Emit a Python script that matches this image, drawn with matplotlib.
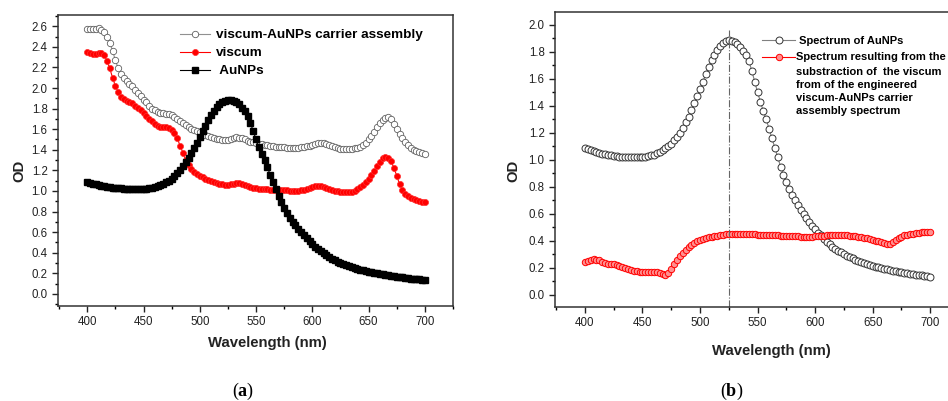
import numpy as np
import matplotlib
matplotlib.use('Agg')
import matplotlib.pyplot as plt
from matplotlib.ticker import MultipleLocator

plt.rcParams['font.family'] = ['Liberation Sans', 'DejaVu Sans']
plt.rcParams['mathtext.fontset'] = 'custom'
plt.rcParams['mathtext.bf'] = 'Liberation Serif:bold'
plt.rcParams['mathtext.rm'] = 'Liberation Serif'

# Wavelength grid (nm), one reading every 2.5 nm
wavelength = np.linspace(400, 700, 121)

# Panel (a) - viscum-AuNPs carrier assembly
carrier = [2.57, 2.57, 2.57, 2.575, 2.58, 2.565, 2.545, 2.50, 2.44, 2.36,
           2.27, 2.19, 2.14, 2.095, 2.065, 2.04, 2.015, 1.985, 1.955, 1.92,
           1.885, 1.86, 1.83, 1.80, 1.785, 1.77, 1.76, 1.755, 1.752, 1.748,
           1.74, 1.72, 1.70, 1.68, 1.66, 1.64, 1.62, 1.605, 1.595, 1.58,
           1.57, 1.555, 1.545, 1.535, 1.525, 1.515, 1.505, 1.50, 1.497, 1.495,
           1.497, 1.505, 1.515, 1.52, 1.515, 1.51, 1.50, 1.49, 1.48, 1.475,
           1.465, 1.46, 1.455, 1.45, 1.445, 1.44, 1.435, 1.43, 1.427, 1.425,
           1.424, 1.422, 1.42, 1.42, 1.42, 1.422, 1.424, 1.428, 1.435, 1.44,
           1.45, 1.46, 1.467, 1.47, 1.465, 1.455, 1.445, 1.435, 1.425, 1.418,
           1.412, 1.408, 1.405, 1.405, 1.407, 1.413, 1.42, 1.43, 1.45, 1.47,
           1.50, 1.535, 1.575, 1.62, 1.657, 1.69, 1.71, 1.715, 1.695, 1.655,
           1.605, 1.555, 1.515, 1.475, 1.445, 1.42, 1.40, 1.385, 1.375, 1.368,
           1.36]

# Panel (a) - viscum
viscum = [2.35, 2.34, 2.335, 2.335, 2.34, 2.34, 2.32, 2.26, 2.19, 2.10,
          2.02, 1.96, 1.91, 1.89, 1.878, 1.865, 1.85, 1.83, 1.808, 1.785,
          1.755, 1.73, 1.70, 1.675, 1.655, 1.635, 1.625, 1.62, 1.618, 1.61,
          1.595, 1.56, 1.51, 1.44, 1.37, 1.30, 1.25, 1.21, 1.185, 1.165,
          1.15, 1.135, 1.12, 1.108, 1.10, 1.09, 1.08, 1.072, 1.065, 1.058,
          1.06, 1.066, 1.07, 1.074, 1.073, 1.065, 1.055, 1.045, 1.038, 1.03,
          1.026, 1.022, 1.02, 1.018, 1.016, 1.014, 1.012, 1.01, 1.01, 1.01,
          1.008, 1.006, 1.004, 1.003, 1.002, 1.003, 1.005, 1.01, 1.018, 1.028,
          1.037, 1.044, 1.048, 1.048, 1.042, 1.032, 1.02, 1.008, 1.0, 0.995,
          0.99, 0.988, 0.987, 0.988, 0.992, 1.0, 1.015, 1.035, 1.06, 1.09,
          1.12, 1.155, 1.19, 1.24, 1.285, 1.32, 1.333, 1.325, 1.29, 1.22,
          1.15, 1.065, 1.01, 0.975, 0.95, 0.932, 0.92, 0.91, 0.903, 0.895,
          0.89]

# AuNPs spectrum (same in (a) and (b))
aunps = [1.085, 1.078, 1.07, 1.063, 1.057, 1.051, 1.046, 1.041, 1.037, 1.033,
         1.03, 1.027, 1.025, 1.023, 1.021, 1.02, 1.019, 1.018, 1.018, 1.019,
         1.021, 1.024, 1.028, 1.033, 1.04, 1.048, 1.058, 1.07, 1.085, 1.10,
         1.12, 1.145, 1.17, 1.20, 1.24, 1.28, 1.32, 1.37, 1.42, 1.47,
         1.525, 1.58, 1.635, 1.69, 1.74, 1.78, 1.815, 1.845, 1.865, 1.878,
         1.885, 1.883, 1.875, 1.86, 1.84, 1.81, 1.775, 1.73, 1.66, 1.58,
         1.50, 1.43, 1.36, 1.30, 1.23, 1.16, 1.09, 1.02, 0.95, 0.89,
         0.835, 0.785, 0.74, 0.70, 0.665, 0.63, 0.60, 0.57, 0.54, 0.51,
         0.485, 0.46, 0.44, 0.415, 0.395, 0.375, 0.358, 0.342, 0.328, 0.315,
         0.302, 0.29, 0.28, 0.27, 0.261, 0.252, 0.244, 0.236, 0.229, 0.222,
         0.216, 0.21, 0.204, 0.199, 0.194, 0.189, 0.184, 0.18, 0.176, 0.172,
         0.168, 0.164, 0.16, 0.157, 0.153, 0.15, 0.147, 0.144, 0.141, 0.138,
         0.135]

# Panel (b) - carrier minus viscum
subtraction = [0.24, 0.25, 0.258, 0.262, 0.26, 0.255, 0.245, 0.238, 0.232, 0.228,
               0.225, 0.22, 0.215, 0.208, 0.20, 0.19, 0.182, 0.177, 0.174, 0.173,
               0.173, 0.173, 0.173, 0.173, 0.172, 0.168, 0.162, 0.155, 0.15, 0.165,
               0.19, 0.225, 0.26, 0.285, 0.31, 0.335, 0.355, 0.37, 0.385, 0.397,
               0.407, 0.415, 0.422, 0.427, 0.431, 0.435, 0.438, 0.442, 0.446, 0.449,
               0.452, 0.451, 0.45, 0.45, 0.451, 0.451, 0.45, 0.449, 0.449, 0.448,
               0.447, 0.446, 0.445, 0.444, 0.443, 0.442, 0.441, 0.44, 0.438, 0.437,
               0.436, 0.435, 0.434, 0.433, 0.433, 0.432, 0.432, 0.432, 0.432, 0.432,
               0.433, 0.434, 0.436, 0.438, 0.44, 0.442, 0.443, 0.444, 0.444, 0.444,
               0.443, 0.441, 0.439, 0.436, 0.433, 0.43, 0.426, 0.422, 0.418, 0.413,
               0.407, 0.402, 0.397, 0.39, 0.383, 0.378, 0.38, 0.39, 0.403, 0.418,
               0.43, 0.44, 0.446, 0.45, 0.454, 0.458, 0.461, 0.463, 0.465, 0.467,
               0.468]

peak_nm = 525

W, H = 948, 401
fig = plt.figure(figsize=(W / 100, H / 100), dpi=100)

def px_axes(left, top, right, bottom):
    return fig.add_axes([left / W, 1 - bottom / H, (right - left) / W, (bottom - top) / H])

def style(ax, ymax_tick):
    ax.set_xlim(374, 725)
    ax.xaxis.set_minor_locator(MultipleLocator(25))
    ax.yaxis.set_minor_locator(MultipleLocator(0.1))
    ax.set_xticks(np.arange(400, 701, 50))
    ax.set_yticks(np.round(np.arange(0, ymax_tick + 0.01, 0.2), 1))
    ax.yaxis.set_major_formatter(plt.FormatStrFormatter('%.1f'))
    ax.tick_params(which='major', direction='out', length=4, width=1, labelsize=8.3, colors='#222222')
    ax.tick_params(which='minor', direction='out', length=2.5, width=1)
    for s in ax.spines.values():
        s.set_linewidth(1.1)
        s.set_color('#333333')
    ax.set_xlabel('Wavelength (nm)', fontsize=10.7, fontweight='bold', color='#222222')
    ax.set_ylabel('OD', fontsize=10.7, fontweight='bold', color='#222222')

# ---- panel (a)
ax1 = px_axes(58, 15, 453, 306)
ax1.plot(wavelength, carrier, color='#909090', lw=0.8, marker='o', ms=4.6,
         mfc='white', mec='#606060', mew=0.6, label='viscum-AuNPs carrier assembly')
ax1.plot(wavelength, viscum, color='red', lw=0.8, marker='o', ms=4.4,
         mfc='red', mec='#ff3030', mew=0.5, label='viscum')
ax1.plot(wavelength, aunps, color='black', lw=0.8, marker='s', ms=4.3,
         mfc='black', mec='black', label=' AuNPs')
ax1.set_ylim(-0.117, 2.709)
style(ax1, 2.6)
ax1.xaxis.set_label_coords(0.529, -0.103)
ax1.yaxis.set_label_coords(-0.081, 0.464)
ax1.legend(loc='upper left', bbox_to_anchor=(180 / W, 1 - 29 / H), bbox_transform=fig.transFigure,
           frameon=False, borderpad=0, borderaxespad=0, handlelength=2.2, handletextpad=0.5,
           labelspacing=0.41, prop={'weight': 'bold', 'size': 9.7})

# ---- panel (b)
ax2 = px_axes(555, 12, 959, 307)
ax2.plot(wavelength, aunps, color='#808080', lw=0.8, marker='o', ms=5.0,
         mfc='white', mec='#333333', mew=0.7, label=' Spectrum of AuNPs')
ax2.plot(wavelength, subtraction, color='red', lw=0.8, marker='o', ms=4.6,
         mfc='#ff9090', mec='red', mew=0.7, label='Spectrum resulting from the')
ax2.set_ylim(-0.09, 2.096)
ax2.plot([peak_nm, peak_nm], [-0.09, 1.96], color='#666666', lw=0.8, ls='-.')
style(ax2, 2.0)
ax2.xaxis.set_label_coords(0.535, -0.125)
ax2.yaxis.set_label_coords(-0.085, 0.461)
ax2.legend(loc='upper left', bbox_to_anchor=(762 / W, 1 - 35.5 / H), bbox_transform=fig.transFigure,
           frameon=False, borderpad=0, borderaxespad=0, handlelength=3.0, handletextpad=0.1,
           labelspacing=0.63, prop={'weight': 'bold', 'size': 8})
fig.text(796 / W, 1 - 67 / H, 'substraction of  the viscum\nfrom of the engineered\n'
         'viscum-AuNPs carrier\nassembly spectrum', fontsize=8, fontweight='bold',
         va='top', ha='left', linespacing=1.385)

# captions
fig.text(243 / W, 1 - 391 / H, r'($\mathbf{a}$)', family='Liberation Serif', fontsize=13,
         ha='center', va='center')
fig.text(732 / W, 1 - 391 / H, r'($\mathbf{b}$)', family='Liberation Serif', fontsize=13,
         ha='center', va='center')

fig.savefig('out.png', dpi=100)
